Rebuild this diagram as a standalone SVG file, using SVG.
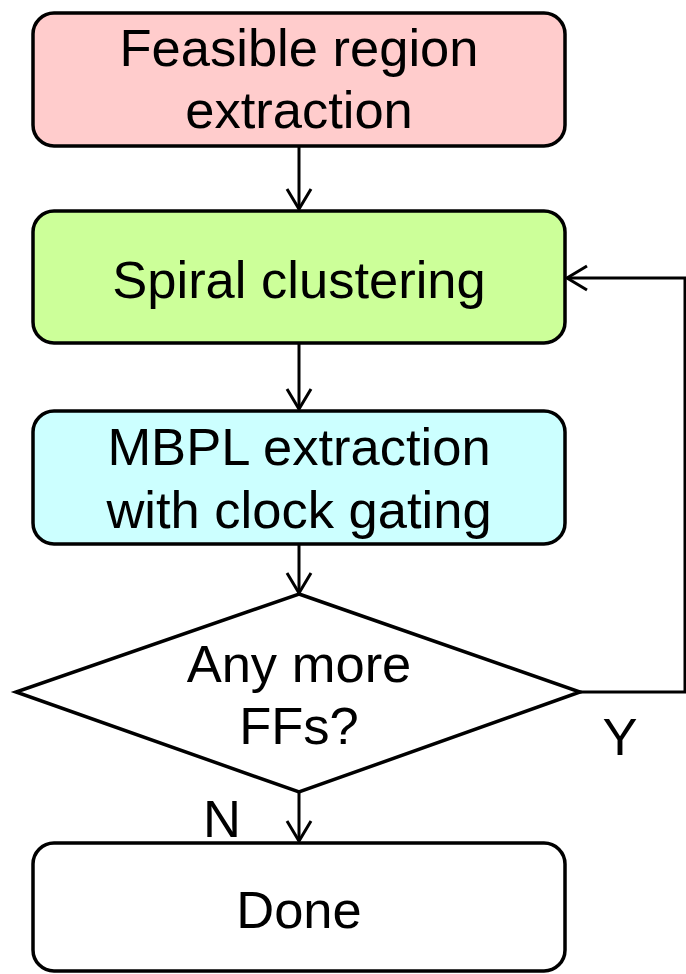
<svg xmlns="http://www.w3.org/2000/svg" width="686" height="974" viewBox="0 0 686 974">
<style>
.box{stroke:#000;stroke-width:3.5}
.t{font-family:"Liberation Sans",Arial,sans-serif;font-size:52.5px;fill:#000;text-anchor:middle}
.c{fill:none;stroke:#000;stroke-width:3}
</style>
<defs>
<marker id="arr" markerUnits="userSpaceOnUse" markerWidth="30" markerHeight="30" viewBox="-24 -15 30 30" refX="0" refY="0" orient="auto">
<path d="M-20,-12 L0,0 L-20,12" fill="none" stroke="#000" stroke-width="3"/>
</marker>
</defs>
<rect width="686" height="974" fill="#fff"/>
<g id="connectors">
<line class="c" x1="299" y1="146" x2="299" y2="209" marker-end="url(#arr)"/>
<line class="c" x1="299" y1="344" x2="299" y2="409" marker-end="url(#arr)"/>
<line class="c" x1="299" y1="545" x2="299" y2="593" marker-end="url(#arr)"/>
<line class="c" x1="299" y1="792" x2="299" y2="841" marker-end="url(#arr)"/>
<polyline class="c" points="580,692 685,692 685,278 567,278" marker-end="url(#arr)"/>
</g>
<g id="feasible">
<rect class="box" x="33" y="13" width="532" height="133" rx="21" fill="#FFCCCC"/>
<text class="t" x="299" y="66">Feasible region</text>
<text class="t" x="299" y="128">extraction</text>
</g>
<g id="spiral">
<rect class="box" x="33" y="211" width="532" height="132" rx="21" fill="#CCFF99"/>
<text class="t" x="299" y="298">Spiral clustering</text>
</g>
<g id="mbpl">
<rect class="box" x="33" y="411" width="532" height="133" rx="21" fill="#CCFFFF"/>
<text class="t" x="299" y="465">MBPL extraction</text>
<text class="t" x="299" y="528">with clock gating</text>
</g>
<g id="decision">
<polygon class="box" points="299,594 580,692 299,792 16,692" fill="#fff"/>
<text class="t" x="299" y="682">Any more</text>
<text class="t" x="299" y="744">FFs?</text>
</g>
<g id="labels">
<text class="t" x="620" y="755">Y</text>
<text class="t" x="222" y="837">N</text>
</g>
<g id="done">
<rect class="box" x="33" y="843" width="532" height="128" rx="21" fill="#fff"/>
<text class="t" x="299" y="928">Done</text>
</g>
</svg>
